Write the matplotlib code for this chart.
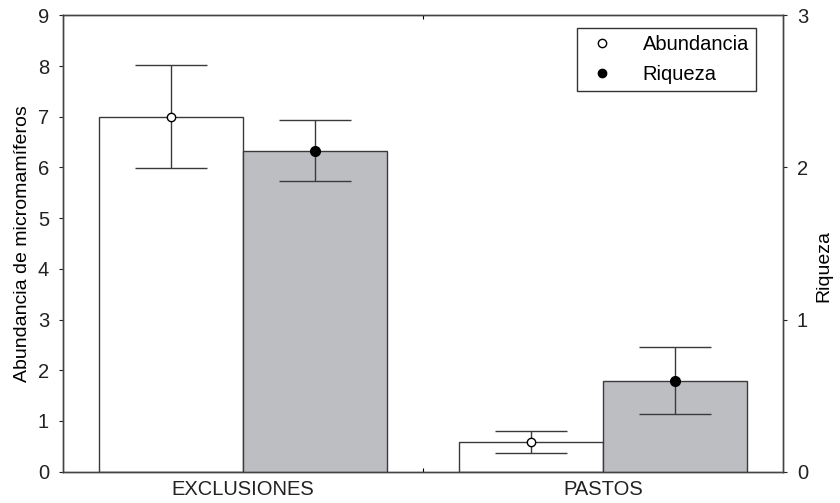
import matplotlib.pyplot as plt
import numpy as np

plt.rcParams['font.family'] = ['Liberation Sans', 'DejaVu Sans']

# Means and standard errors per site type
categorias = ["EXCLUSIONES", "PASTOS"]
abundancia = [7.0, 0.59]
abundancia_err = [1.01, 0.22]
riqueza = [2.11, 0.597]
riqueza_err = [0.2, 0.22]

x = np.arange(len(categorias))
ancho = 0.4
gris_linea = "#3a3a3a"

fig = plt.figure(figsize=(8.4, 5.03), dpi=100)
ax = fig.add_axes([0.075, 0.0622, 0.857, 0.9074])
ax2 = ax.twinx()

# Abundance on the left axis
ax.bar(x - ancho / 2, abundancia, width=ancho, color="white",
       edgecolor=gris_linea, linewidth=1.0, zorder=2)
ax.errorbar(x - ancho / 2, abundancia, yerr=abundancia_err, fmt="o",
            color=gris_linea, ecolor=gris_linea, elinewidth=1.0, capsize=26,
            capthick=1.0, markerfacecolor="white", markeredgecolor="black",
            markersize=6, zorder=3)

# Richness on the right axis
ax2.bar(x + ancho / 2, riqueza, width=ancho, color="#bdbec2",
        edgecolor=gris_linea, linewidth=1.0, zorder=2)
ax2.errorbar(x + ancho / 2, riqueza, yerr=riqueza_err, fmt="o",
             color=gris_linea, ecolor=gris_linea, elinewidth=1.0, capsize=26,
             capthick=1.0, markerfacecolor="black", markeredgecolor="black",
             markersize=7, zorder=3)

ax.set_xlim(-0.5, 1.5)
ax.set_ylim(0, 9)
ax2.set_ylim(0, 3)
ax.set_yticks(range(0, 10))
ax2.set_yticks(range(0, 4))
ax.set_xticks(x)
ax.set_xticklabels(categorias)
ax.set_xticks([0.5], minor=True)

ax.tick_params(axis="y", direction="out", length=3, width=0.8, labelsize=14.5,
               colors="#222222", pad=7)
ax2.tick_params(axis="y", direction="out", length=3, width=0.8, labelsize=14.5,
                colors="#222222", pad=7)
ax.tick_params(axis="x", which="major", length=0, labelsize=14.5, pad=6,
               colors="#222222")
ax.tick_params(axis="x", which="minor", direction="in", length=3, width=0.8,
               top=True, bottom=True)

for a in (ax, ax2):
    for s in a.spines.values():
        s.set_color("#444444")
        s.set_linewidth(1.0)

ax.set_ylabel("Abundancia de micromamíferos", fontsize=14, labelpad=5)
ax2.set_ylabel("Riqueza", fontsize=14)
ax2.yaxis.set_label_coords(1.045, 0.45)

# Legend with marker handles only
h1 = plt.Line2D([], [], linestyle="none", marker="o", markerfacecolor="white",
                markeredgecolor="black", markersize=6)
h2 = plt.Line2D([], [], linestyle="none", marker="o", markerfacecolor="black",
                markeredgecolor="black", markersize=6)
leg = ax2.legend([h1, h2], ["Abundancia", "Riqueza"], loc="upper right",
                 bbox_to_anchor=(0.9625, 0.9715), borderaxespad=0,
                 fancybox=False, framealpha=1, edgecolor="#333333",
                 fontsize=14.5, handlelength=1.8, handletextpad=1.1,
                 borderpad=0.35, labelspacing=0.55)
leg.get_frame().set_linewidth(1.0)

fig.savefig("out.png", dpi=100)
